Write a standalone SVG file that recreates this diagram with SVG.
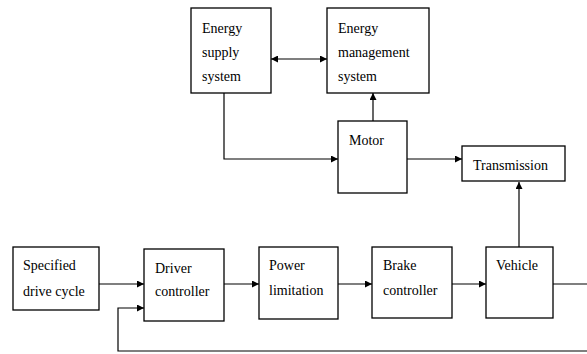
<svg xmlns="http://www.w3.org/2000/svg" width="587" height="354" viewBox="0 0 587 354">
<style>
.box{fill:#fff;stroke:#000;stroke-width:1.3}
.lbl{font-family:"Liberation Serif","Times New Roman",serif;font-size:14px;fill:#000}
.con{fill:none;stroke:#000;stroke-width:1.2}
</style>
<defs>
<marker id="ah" viewBox="0 0 10 10" refX="10" refY="5" markerWidth="9" markerHeight="7" markerUnits="userSpaceOnUse" orient="auto-start-reverse">
<path d="M0,0 L10,5 L0,10 Z" fill="#000"/>
</marker>
</defs>
<rect width="587" height="354" fill="#fff"/>
<g id="connectors">
<path class="con" d="M271,59 H327" marker-start="url(#ah)" marker-end="url(#ah)"/>
<path class="con" d="M373,121 V93" marker-end="url(#ah)"/>
<path class="con" d="M224,93 V159 H338" marker-end="url(#ah)"/>
<path class="con" d="M407,159 H462" marker-end="url(#ah)"/>
<path class="con" d="M519,247 V182" marker-end="url(#ah)"/>
<path class="con" d="M99,284 H144" marker-end="url(#ah)"/>
<path class="con" d="M224,284 H259" marker-end="url(#ah)"/>
<path class="con" d="M338,284 H372" marker-end="url(#ah)"/>
<path class="con" d="M452,284 H486" marker-end="url(#ah)"/>
<path class="con" d="M553,284 H592 V351 H118 V308 H144" marker-end="url(#ah)"/>
</g>
<g id="energy-supply">
<rect class="box" x="191" y="8" width="80" height="85"/>
<text class="lbl" x="202" y="33">Energy</text>
<text class="lbl" x="202" y="57">supply</text>
<text class="lbl" x="202" y="81">system</text>
</g>
<g id="energy-management">
<rect class="box" x="327" y="8" width="102" height="85"/>
<text class="lbl" x="338" y="33">Energy</text>
<text class="lbl" x="338" y="57">management</text>
<text class="lbl" x="338" y="81">system</text>
</g>
<g id="motor">
<rect class="box" x="338" y="121" width="69" height="72"/>
<text class="lbl" x="349" y="145">Motor</text>
</g>
<g id="transmission">
<rect class="box" x="462" y="146" width="103" height="35"/>
<text class="lbl" x="473" y="169.5">Transmission</text>
</g>
<g id="specified-drive-cycle">
<rect class="box" x="13" y="247" width="86" height="63"/>
<text class="lbl" x="23" y="270">Specified</text>
<text class="lbl" x="23" y="296">drive cycle</text>
</g>
<g id="driver-controller">
<rect class="box" x="144" y="249" width="80" height="72"/>
<text class="lbl" x="155" y="273">Driver</text>
<text class="lbl" x="155" y="296">controller</text>
</g>
<g id="power-limitation">
<rect class="box" x="259" y="247" width="79" height="72"/>
<text class="lbl" x="269" y="270">Power</text>
<text class="lbl" x="269" y="295">limitation</text>
</g>
<g id="brake-controller">
<rect class="box" x="372" y="247" width="80" height="71"/>
<text class="lbl" x="383" y="270">Brake</text>
<text class="lbl" x="383" y="295">controller</text>
</g>
<g id="vehicle">
<rect class="box" x="486" y="247" width="67" height="71"/>
<text class="lbl" x="496" y="270">Vehicle</text>
</g>
</svg>
